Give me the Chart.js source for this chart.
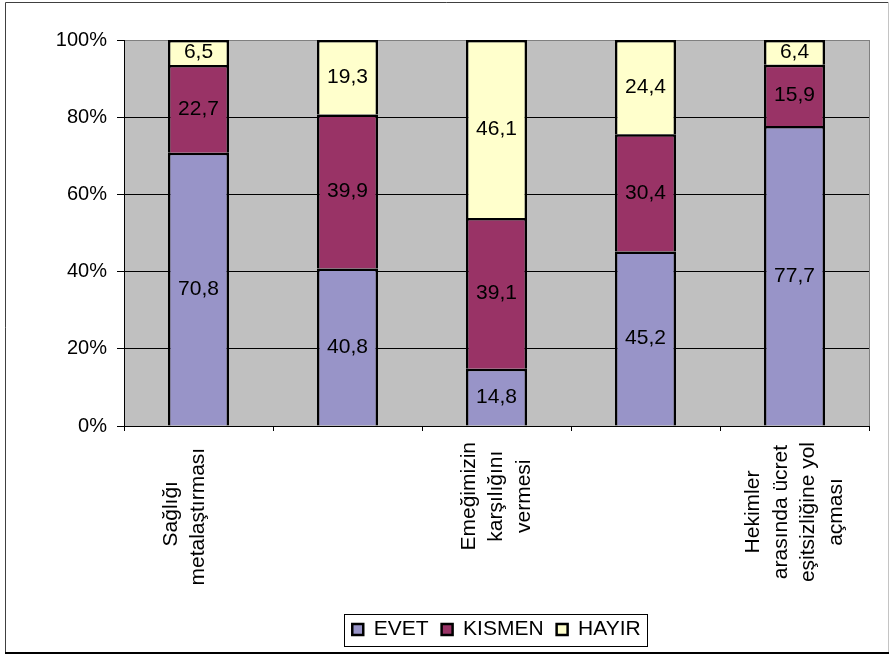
<!DOCTYPE html>
<html lang="tr">
<head>
<meta charset="utf-8">
<title>Anket sonuçları</title>
<script src="https://cdn.jsdelivr.net/npm/chart.js@4.4.0/dist/chart.umd.min.js"></script>
<style>
    html, body { margin: 0; padding: 0; background: #fff; }
    canvas { display: block; }
</style>
</head>
<body>
<canvas id="grafik" width="890" height="655"></canvas>
<script>
"use strict";

// Kategoriler satır satır (boş olanlar eksende yazılmıyor)
const kategoriler = [
    ['Sağlığı', 'metalaştırması ', ''],
    [''],
    ['Emeğimizin', 'karşılığını', 'vermesi'],
    [''],
    ['Hekimler', 'arasında ücret', 'eşitsizliğine yol', 'açması']
];

// Yüzdeler
const evet = [70.8, 40.8, 14.8, 45.2, 77.7];
const kismen = [22.7, 39.9, 39.1, 30.4, 15.9];
const hayir = [6.5, 19.3, 46.1, 24.4, 6.4];

const seriAdlari = ['EVET', 'KISMEN', 'HAYIR'];

const yaziTipi = "'Liberation Sans', Arial, sans-serif";

// Gri çizim alanı, dış çerçeve, lejant çerçevesi ve eksen yazıları
const zeminPlugin = {
    id: 'zemin',
    beforeDraw(chart) {
        const {ctx, chartArea: a} = chart;
        ctx.save();
        ctx.fillStyle = '#fff';
        ctx.fillRect(0, 0, chart.width, chart.height);
        ctx.fillStyle = '#c0c0c0';
        ctx.fillRect(a.left, a.top, a.right - a.left, a.bottom - a.top);
        ctx.strokeStyle = '#808080';
        ctx.lineWidth = 1;
        ctx.strokeRect(a.left + 0.5, a.top + 0.5, a.right - a.left, a.bottom - a.top);
        ctx.restore();
    },
    afterDraw(chart) {
        const {ctx, chartArea: a} = chart;
        ctx.save();

        // dış çerçeve
        ctx.lineWidth = 1;
        ctx.strokeStyle = '#404040';
        ctx.beginPath();
        ctx.moveTo(5.5, 652);
        ctx.lineTo(5.5, 2.5);
        ctx.lineTo(888, 2.5);
        ctx.stroke();
        ctx.strokeStyle = '#c4c4c4';
        ctx.beginPath();
        ctx.moveTo(888.5, 2);
        ctx.lineTo(888.5, 652);
        ctx.stroke();
        ctx.fillStyle = '#000';
        ctx.fillRect(5, 652, 884, 2);

        // lejant çerçevesi
        const kutular = chart.legend.legendHitBoxes;
        if (kutular.length) {
            const ilk = kutular[0];
            const son = kutular[kutular.length - 1];
            const sol = Math.round(ilk.left - 8);
            const sag = Math.round(son.left + son.width + 6);
            const orta = Math.round(ilk.top + ilk.height / 2);
            ctx.strokeStyle = '#000';
            ctx.strokeRect(sol + 0.5, orta - 16 + 0.5, sag - sol, 32);
        }

        // kategori yazıları: dikey, satırlar ortalı
        const xs = chart.scales.x;
        ctx.font = `21px ${yaziTipi}`;
        ctx.fillStyle = '#000';
        ctx.textAlign = 'center';
        ctx.textBaseline = 'middle';
        const satirAraligi = 27.5;
        kategoriler.forEach((satirlar, i) => {
            const x = xs.getPixelForValue(i);
            const enUzun = Math.max(...satirlar.map(s => ctx.measureText(s).width));
            const ust = a.bottom + 16;
            ctx.save();
            ctx.translate(x, ust + enUzun / 2);
            ctx.rotate(-Math.PI / 2);
            satirlar.forEach((s, k) => {
                ctx.fillText(s, 0, (k - (satirlar.length - 1) / 2) * satirAraligi);
            });
            ctx.restore();
        });
        ctx.restore();
    }
};

// Her dilimin ortasına değeri yaz
const degerPlugin = {
    id: 'degerler',
    afterDatasetsDraw(chart) {
        const {ctx} = chart;
        ctx.save();
        ctx.font = `21px ${yaziTipi}`;
        ctx.fillStyle = '#000';
        ctx.textAlign = 'center';
        ctx.textBaseline = 'middle';
        chart.data.datasets.forEach((ds, i) => {
            chart.getDatasetMeta(i).data.forEach((bar, j) => {
                const {x, y, base} = bar.getProps(['x', 'y', 'base'], true);
                ctx.fillText(ds.data[j].toFixed(1).replace('.', ','), x, (y + base) / 2);
            });
        });
        ctx.restore();
    }
};

new Chart(document.getElementById('grafik'), {
    type: 'bar',
    data: {
        labels: kategoriler,
        datasets: [
            { label: seriAdlari[0], data: evet, backgroundColor: '#9894c8' },
            { label: seriAdlari[1], data: kismen, backgroundColor: '#993366' },
            { label: seriAdlari[2], data: hayir, backgroundColor: '#ffffcc' }
        ]
    },
    options: {
        responsive: false,
        animation: false,
        layout: { padding: { top: 40, right: 21, bottom: 5, left: 6 } },
        datasets: {
            bar: {
                borderColor: '#000',
                borderWidth: 2.5,
                borderSkipped: 'start',
                inflateAmount: 0,
                barPercentage: 0.41,
                categoryPercentage: 1
            }
        },
        scales: {
            x: {
                stacked: true,
                grid: { drawOnChartArea: false, color: '#000', tickLength: 5 },
                border: { color: '#000' },
                ticks: { display: false },
                afterFit(s) { s.height = 180; }
            },
            y: {
                stacked: true,
                min: 0,
                max: 100,
                ticks: {
                    stepSize: 20,
                    callback: v => v + '%',
                    color: '#000',
                    padding: 10,
                    font: { family: yaziTipi, size: 20 }
                },
                grid: {
                    color: c => (c.tick && c.tick.value === 100) ? '#808080' : '#000',
                    tickColor: '#000',
                    tickLength: 7
                },
                border: { color: '#000' },
                afterFit(s) { s.width = 118; }
            }
        },
        plugins: {
            legend: {
                position: 'bottom',
                fullSize: false,
                labels: {
                    boxWidth: 11,
                    boxHeight: 11,
                    padding: 13,
                    color: '#000',
                    font: { family: yaziTipi, size: 21 }
                }
            },
            tooltip: { enabled: false }
        }
    },
    plugins: [zeminPlugin, degerPlugin]
});
</script>
</body>
</html>
